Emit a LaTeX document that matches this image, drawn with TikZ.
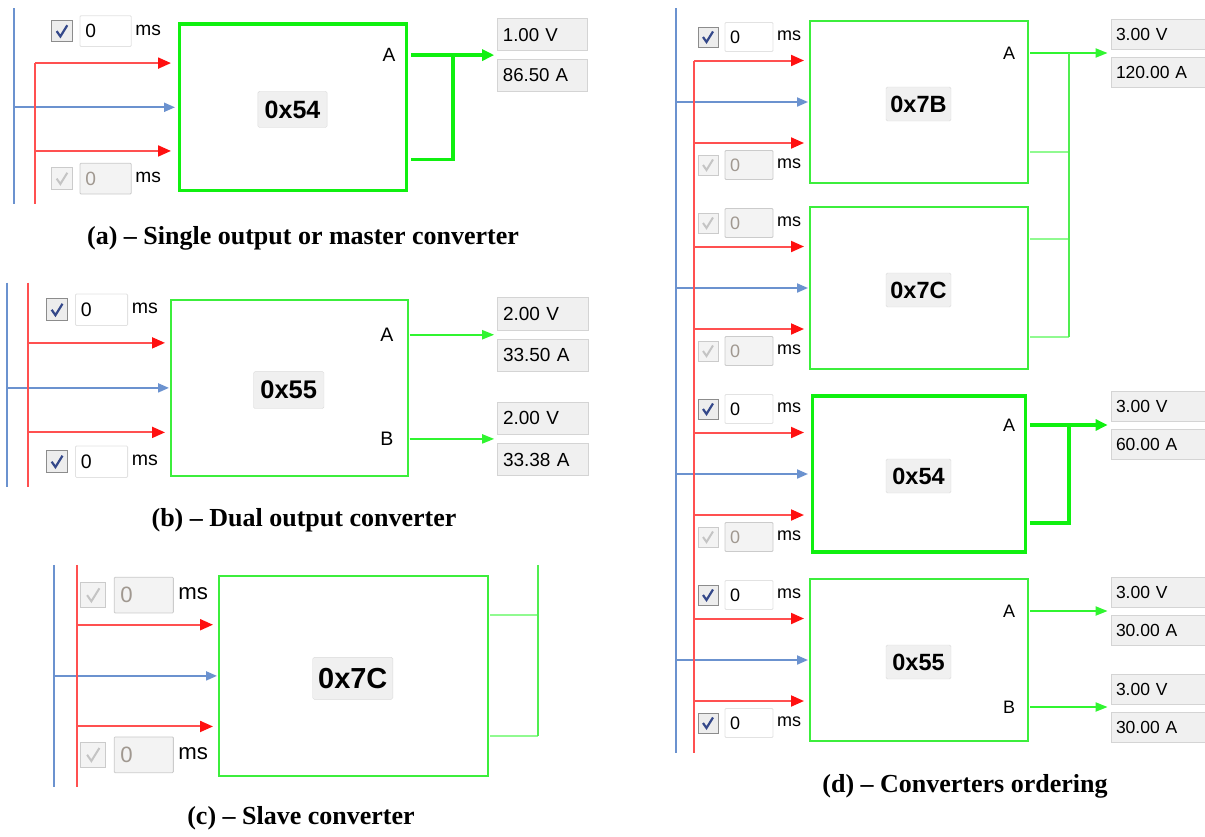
\documentclass[tikz,border=0pt]{standalone}
\usepackage{fontspec}
\setmainfont{Liberation Sans}
\newfontfamily\capfont{Liberation Serif}
\usepackage{xcolor}
\definecolor{pgblue}{HTML}{6B92CF}
\definecolor{enred}{HTML}{FF5050}
\definecolor{tipred}{HTML}{FF1010}
\definecolor{boxgreen}{HTML}{3CEE3C}
\definecolor{mastergreen}{HTML}{10F010}
\definecolor{outgreen}{HTML}{30F530}
\definecolor{slavegreen}{HTML}{90FA90}
\definecolor{tapgreen}{HTML}{50EE50}
\definecolor{idgray}{HTML}{F0F0F0}
\definecolor{idline}{HTML}{DADADA}
\definecolor{valgray}{HTML}{F0F0F0}
\definecolor{valline}{HTML}{D4D4D4}
\definecolor{chkline}{HTML}{8C8C8C}
\definecolor{chkfill}{HTML}{EDEDED}
\definecolor{offline}{HTML}{CBCBCB}
\definecolor{offfill}{HTML}{F3F3F3}
\definecolor{fieldline}{HTML}{E2E2E2}
\definecolor{tickblue}{HTML}{34488A}
\definecolor{tickgray}{HTML}{C4C4C4}
\definecolor{offtext}{HTML}{A09890}
\usepackage{tikz}
\usetikzlibrary{arrows.meta}

\newcommand{\uifont}{\fontsize{18}{20}\selectfont}
\newcommand{\valfont}{\fontsize{17.5}{20}\selectfont}
\newcommand{\idfont}{\fontsize{23.5}{26}\selectfont\bfseries}

\tikzset{
  convbox/.style   = {rectangle, draw=boxgreen, line width=2pt,
                      minimum width=218pt, minimum height=162pt,
                      inner sep=0pt, outer sep=0pt},
  masterbox/.style = {convbox, draw=mastergreen, line width=3.5pt,
                      minimum width=213pt, minimum height=156pt, outer sep=2.5pt},
  idbox/.style     = {rectangle, rounded corners=1.5pt, draw=idline, fill=idgray,
                      minimum width=65pt, minimum height=34pt, inner sep=0pt,
                      font=\idfont},
  port/.style      = {inner sep=0pt, font=\uifont},
  valbox/.style    = {rectangle, draw=valline, fill=valgray, line width=0.8pt,
                      text width=74pt, inner xsep=5pt, inner ysep=0pt,
                      minimum height=30pt, align=left, font=\valfont},
  wideval/.style   = {text width=94pt},
  chkon/.style     = {rectangle, draw=chkline, fill=chkfill, line width=1pt,
                      minimum size=20pt, inner sep=0pt},
  chkoff/.style    = {chkon, draw=offline, fill=offfill},
  tickon/.style    = {draw=tickblue, line width=2.2pt},
  tickoff/.style   = {draw=tickgray, line width=2pt},
  fieldon/.style   = {rectangle, rounded corners=1pt, draw=fieldline, fill=white,
                      line width=0.8pt, text width=38pt, inner xsep=5pt,
                      inner ysep=0pt, minimum height=29pt, align=left, font=\uifont},
  fieldoff/.style  = {fieldon, draw=offline, fill=offfill, text=offtext},
  enarrow/.style   = {draw=enred, line width=2pt, shorten >=6pt,
                      -{Triangle[length=13pt,width=11pt,color=tipred]}},
  pgarrow/.style   = {draw=pgblue, line width=2pt, shorten >=2pt,
                      -{Triangle[length=11pt,width=9pt]}},
  outarrow/.style  = {draw=outgreen, line width=2pt, shorten <=2pt, shorten >=3pt,
                      -{Triangle[length=12pt,width=9pt]}},
  masterarr/.style = {draw=mastergreen, line width=3.5pt, shorten <=2pt,
                      shorten >=3pt, -{Triangle[length=12pt,width=11pt]}},
  masterret/.style = {draw=mastergreen, line width=3.5pt},
  slaveline/.style = {draw=slavegreen, line width=2pt},
  tapline/.style   = {draw=tapgreen, line width=1.8pt},
  enbus/.style     = {draw=enred, line width=2pt},
  pgbus/.style     = {draw=pgblue, line width=2pt},
  caption/.style   = {font=\capfont\bfseries\fontsize{26}{28}\selectfont}
}

% delay row: name, y, on/off, x offset
\newcommand{\delayrow}[4]{%
  \node[chk#3] (#1c) at ({-102+#4},#2) {};
  \draw[tick#3] ({-107+#4},#2) -- ({-103.5+#4},{#2+5}) -- ({-97+#4},{#2-5.5});
  \node[field#3] (#1f) at ({-61+#4},#2) {0};
  \node[port] (#1m) at ({-21+#4},{#2-1}) {ms};
}

% converter inputs: box, red bus x, blue bus x, top state, bottom state,
% top row y, bottom row y, row x offset
\newcommand{\convinputs}[8]{%
  \coordinate (#1en1) at (#2,39.5);
  \coordinate (#1pg) at (#3,81);
  \coordinate (#1en2) at (#2,122);
  \draw[enarrow] (#1en1) -- (#1en1 -| #1.west);
  \draw[pgarrow] (#1pg) -- (#1pg -| #1.west);
  \draw[enarrow] (#1en2) -- (#1en2 -| #1.west);
  \delayrow{#1t}{#6}{#4}{#8}%
  \delayrow{#1b}{#7}{#5}{#8}%
}

\begin{document}
\begin{tikzpicture}[x=1pt, y=-1pt]
  \useasboundingbox (0,0) rectangle (1205,836);

  % (a) single output or master
  \begin{scope}[shift={(177,21)}, scale=1.065, transform shape]
    \node[masterbox] (a54) at (109,81) {};
    \node[idbox] (a54id) at (108.5,83) {0x54};
    \convinputs{a54}{-133}{-153}{on}{off}{9.5}{148}{-6}
    \coordinate (apgtop) at (-153,-12);
    \coordinate (apgbot) at (-153,172);
    \coordinate (aentop) at (-133,39.5);
    \coordinate (aenbot) at (-133,172);
    \draw[pgbus] (apgtop) -- (apgbot);
    \draw[enbus] (aentop) -- (aenbot);
    \node[port] (a54pa) at (199,32) {A};
    \node[valbox] (a54v) at (343,13) {1.00 V};
    \node[valbox] (a54i) at (343,51) {86.50 A};
    \draw[masterarr] (a54pa -| a54.east) -- (a54pa -| a54v.west);
    \coordinate (a54ret) at (220,130);
    \coordinate (a54jn) at (259,32);
    \draw[masterret] (a54ret) -| (a54jn);
  \end{scope}
  \node[caption] (capa) at (303,238) {(a) – Single output or master converter};

  % (b) dual output
  \begin{scope}[shift={(171,300)}, scale=1.085, transform shape]
    \node[convbox] (b55) at (109,81) {};
    \node[idbox] (b55id) at (108.5,83) {0x55};
    \convinputs{b55}{-132}{-151}{on}{on}{9}{149}{-3}
    \coordinate (bpgtop) at (-151,-16);
    \coordinate (bpgbot) at (-151,172);
    \coordinate (bentop) at (-132,-16);
    \coordinate (benbot) at (-132,172);
    \draw[pgbus] (bpgtop) -- (bpgbot);
    \draw[enbus] (bentop) -- (benbot);
    \node[port] (b55pa) at (199,32) {A};
    \node[port] (b55pb) at (199,128) {B};
    \node[valbox] (b55va) at (343,13) {2.00 V};
    \node[valbox] (b55ia) at (343,51) {33.50 A};
    \node[valbox] (b55vb) at (343,109) {2.00 V};
    \node[valbox] (b55ib) at (343,147) {33.38 A};
    \draw[outarrow] (b55pa -| b55.east) -- (b55pa -| b55va.west);
    \draw[outarrow] (b55pb -| b55.east) -- (b55pb -| b55vb.west);
  \end{scope}
  \node[caption] (capb) at (304,520) {(b) – Dual output converter};

  % (c) slave
  \begin{scope}[shift={(219,576)}, scale=1.233, transform shape]
    \node[convbox] (c7C) at (109,81) {};
    \node[idbox] (c7Cid) at (108.5,83) {0x7C};
    \convinputs{c7C}{-115}{-134}{off}{off}{15.5}{145}{0}
    \coordinate (cpgtop) at (-134,-9);
    \coordinate (cpgbot) at (-134,171);
    \coordinate (centop) at (-115,-9);
    \coordinate (cenbot) at (-115,171);
    \draw[pgbus] (cpgtop) -- (cpgbot);
    \draw[enbus] (centop) -- (cenbot);
    \coordinate (c7Coa) at (220,32);
    \coordinate (c7Cob) at (220,130);
    \coordinate (c7Ctap) at (258.5,-9);
    \draw[slaveline] (c7Coa) -- (c7Coa -| c7Ctap);
    \draw[slaveline] (c7Cob) -- (c7Cob -| c7Ctap);
    \draw[tapline] (c7Ctap) -- (c7Ctap |- c7Cob);
  \end{scope}
  \node[caption] (capc) at (301,818) {(c) – Slave converter};

  % (d) converters ordering
  \begin{scope}[shift={(810,21)}]
    \node[convbox] (d7B) at (109,81) {};
    \node[idbox] (d7Bid) at (108.5,83) {0x7B};
    \convinputs{d7B}{-116}{-134}{on}{off}{16}{144}{0}
    \node[port] (d7Bpa) at (199,32) {A};
    \node[valbox, wideval] (d7Bv) at (353,13) {3.00 V};
    \node[valbox, wideval] (d7Bi) at (353,51) {120.00 A};
    \draw[outarrow] (d7Bpa -| d7B.east) -- (d7Bpa -| d7Bv.west);
    \coordinate (d7Bob) at (220,131);
    \coordinate (d7Bjn) at (259,32);
  \end{scope}
  \begin{scope}[shift={(810,207)}]
    \node[convbox] (d7C) at (109,81) {};
    \node[idbox] (d7Cid) at (108.5,83) {0x7C};
    \convinputs{d7C}{-116}{-134}{off}{off}{16}{144}{0}
    \coordinate (d7Coa) at (220,32);
    \coordinate (d7Cob) at (220,130);
  \end{scope}
  \begin{scope}[shift={(810,393)}]
    \node[masterbox] (d54) at (109,81) {};
    \node[idbox] (d54id) at (108.5,83) {0x54};
    \convinputs{d54}{-116}{-134}{on}{off}{16}{144}{0}
    \node[port] (d54pa) at (199,32) {A};
    \node[valbox, wideval] (d54v) at (353,13) {3.00 V};
    \node[valbox, wideval] (d54i) at (353,51) {60.00 A};
    \draw[masterarr] (d54pa -| d54.east) -- (d54pa -| d54v.west);
    \coordinate (d54ret) at (220,130);
    \coordinate (d54jn) at (259,32);
    \draw[masterret] (d54ret) -| (d54jn);
  \end{scope}
  \begin{scope}[shift={(810,579)}]
    \node[convbox] (d55) at (109,81) {};
    \node[idbox] (d55id) at (108.5,83) {0x55};
    \convinputs{d55}{-116}{-134}{on}{on}{16}{144}{0}
    \node[port] (d55pa) at (199,32) {A};
    \node[port] (d55pb) at (199,128) {B};
    \node[valbox, wideval] (d55va) at (353,13) {3.00 V};
    \node[valbox, wideval] (d55ia) at (353,51) {30.00 A};
    \node[valbox, wideval] (d55vb) at (353,110) {3.00 V};
    \node[valbox, wideval] (d55ib) at (353,148) {30.00 A};
    \draw[outarrow] (d55pa -| d55.east) -- (d55pa -| d55va.west);
    \draw[outarrow] (d55pb -| d55.east) -- (d55pb -| d55vb.west);
  \end{scope}
  % slave wiring and buses
  \draw[slaveline] (d7Bob) -- (d7Bob -| d7Bjn);
  \draw[slaveline] (d7Coa) -- (d7Coa -| d7Bjn);
  \draw[slaveline] (d7Cob) -- (d7Cob -| d7Bjn);
  \draw[tapline] (d7Bjn) -- (d7Bjn |- d7Cob);
  \coordinate (dpgtop) at (676,8);
  \coordinate (dpgbot) at (676,753);
  \coordinate (dentop) at (694,60.5);
  \coordinate (denbot) at (694,753);
  \draw[pgbus] (dpgtop) -- (dpgbot);
  \draw[enbus] (dentop) -- (denbot);
  \node[caption] (capd) at (965,786) {(d) – Converters ordering};
\end{tikzpicture}
\end{document}
